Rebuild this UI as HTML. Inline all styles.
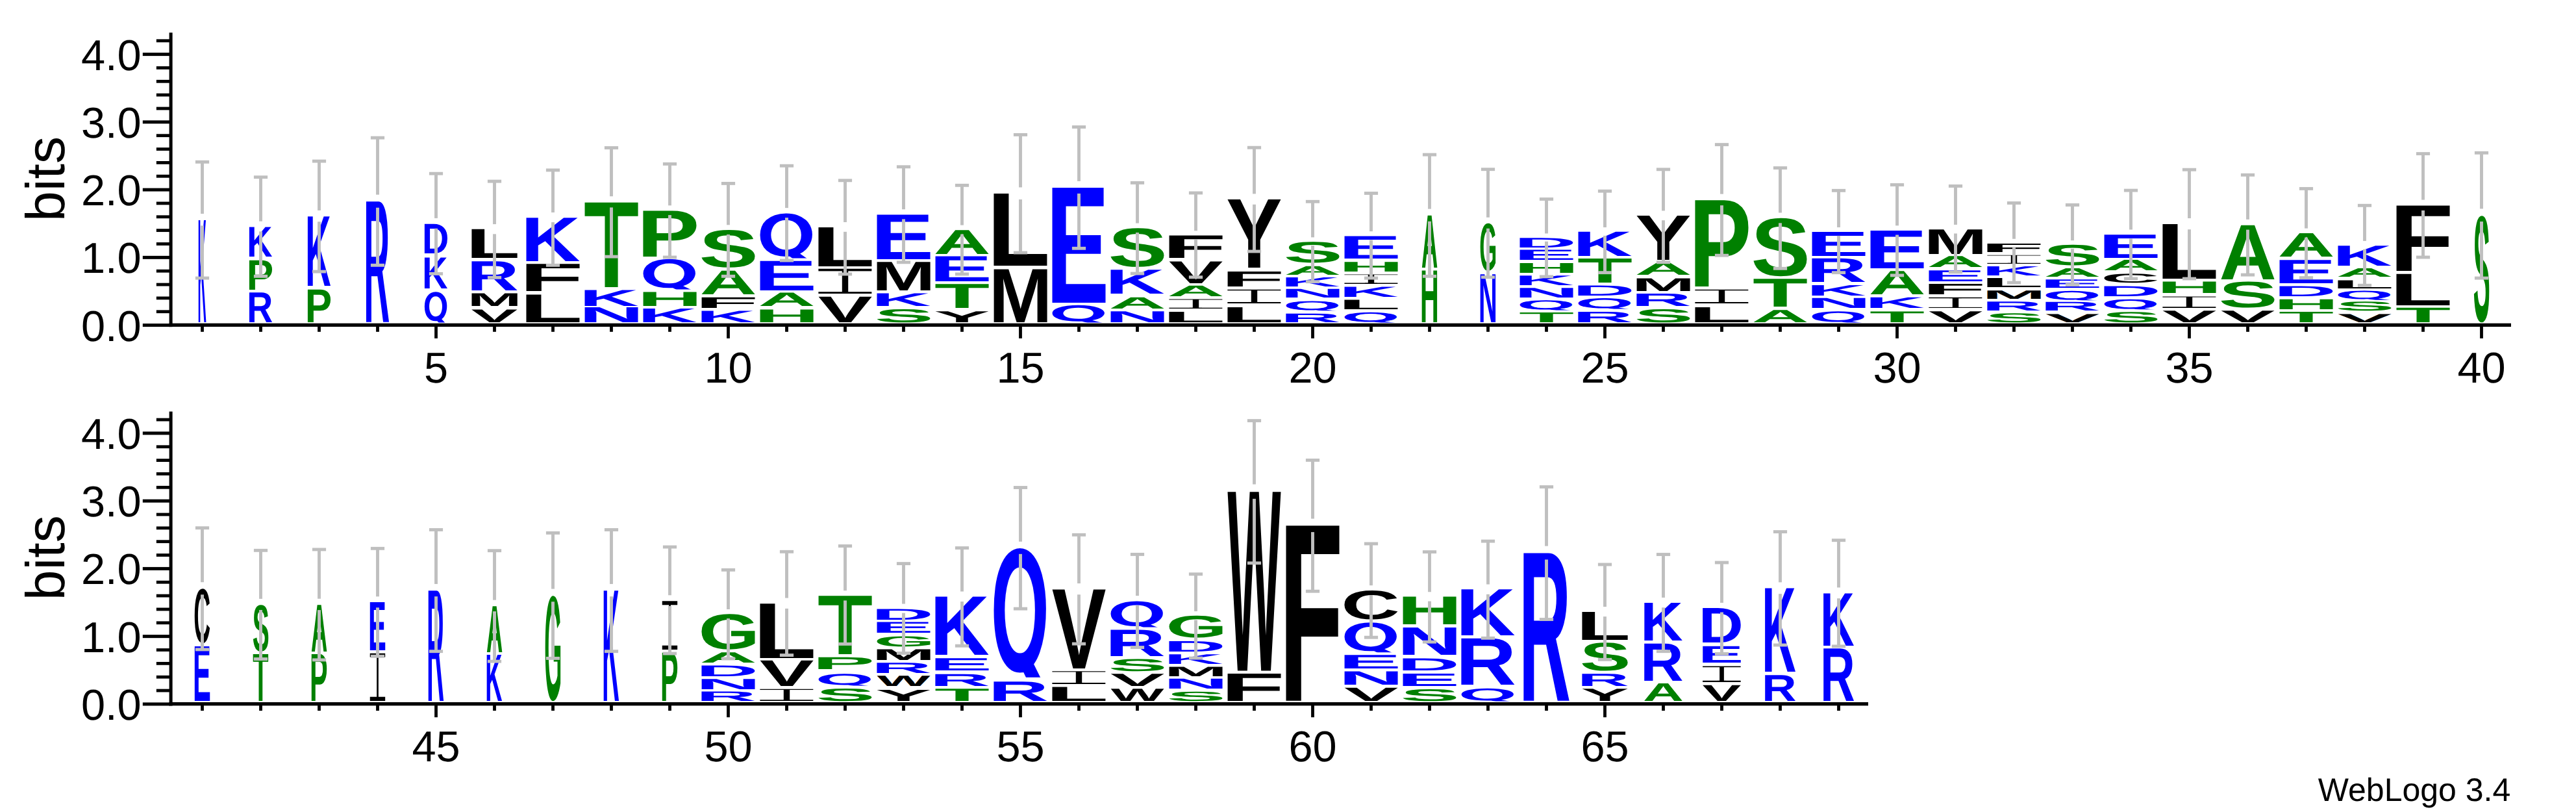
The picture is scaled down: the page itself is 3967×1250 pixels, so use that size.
<!DOCTYPE html>
<html><head><meta charset="utf-8"><title>WebLogo 3.4</title>
<style>
html,body{margin:0;padding:0;background:#fff}
svg{display:block}
text{font-family:"Liberation Sans",sans-serif;font-weight:bold;font-size:100px;text-rendering:geometricPrecision}
text.i{font-family:"Liberation Mono",monospace;font-weight:normal;fill:#000}
text.q{font-family:"NanumGothic","Liberation Sans",sans-serif;font-weight:800}
text.n{font-weight:normal;font-size:66.7px;fill:#000}
text.b{font-weight:normal;font-size:84.3px;fill:#000}
text.fp{font-weight:normal;font-size:50px;fill:#000}
</style></head><body>
<svg width="3967" height="1250" viewBox="0 0 3967 1250">
<rect width="3967" height="1250" fill="#fff"/>
<rect x="260.6" y="50.24" width="5" height="452.96" fill="#000000"/>
<rect x="260.6" y="497.7" width="3606.4" height="5.3" fill="#000000"/>
<rect x="219.8" y="498.1" width="42" height="5" fill="#000000"/>
<text class="n" text-anchor="end" x="217.6" y="524.5">0.0</text>
<rect x="240.8" y="477.35" width="21" height="4.8" fill="#000000"/>
<rect x="240.8" y="456.5" width="21" height="4.8" fill="#000000"/>
<rect x="240.8" y="435.65" width="21" height="4.8" fill="#000000"/>
<rect x="240.8" y="414.8" width="21" height="4.8" fill="#000000"/>
<rect x="219.8" y="393.85" width="42" height="5" fill="#000000"/>
<text class="n" text-anchor="end" x="217.6" y="420.25">1.0</text>
<rect x="240.8" y="373.1" width="21" height="4.8" fill="#000000"/>
<rect x="240.8" y="352.25" width="21" height="4.8" fill="#000000"/>
<rect x="240.8" y="331.4" width="21" height="4.8" fill="#000000"/>
<rect x="240.8" y="310.55" width="21" height="4.8" fill="#000000"/>
<rect x="219.8" y="289.6" width="42" height="5" fill="#000000"/>
<text class="n" text-anchor="end" x="217.6" y="316">2.0</text>
<rect x="240.8" y="268.85" width="21" height="4.8" fill="#000000"/>
<rect x="240.8" y="248" width="21" height="4.8" fill="#000000"/>
<rect x="240.8" y="227.15" width="21" height="4.8" fill="#000000"/>
<rect x="240.8" y="206.3" width="21" height="4.8" fill="#000000"/>
<rect x="219.8" y="185.35" width="42" height="5" fill="#000000"/>
<text class="n" text-anchor="end" x="217.6" y="211.75">3.0</text>
<rect x="240.8" y="164.6" width="21" height="4.8" fill="#000000"/>
<rect x="240.8" y="143.75" width="21" height="4.8" fill="#000000"/>
<rect x="240.8" y="122.9" width="21" height="4.8" fill="#000000"/>
<rect x="240.8" y="102.05" width="21" height="4.8" fill="#000000"/>
<rect x="219.8" y="81.1" width="42" height="5" fill="#000000"/>
<text class="n" text-anchor="end" x="217.6" y="107.5">4.0</text>
<rect x="240.8" y="60.35" width="21" height="4.8" fill="#000000"/>
<rect x="309.1" y="500.6" width="4.8" height="10.2" fill="#000000"/>
<rect x="399.1" y="500.6" width="4.8" height="10.2" fill="#000000"/>
<rect x="489.1" y="500.6" width="4.8" height="10.2" fill="#000000"/>
<rect x="579.1" y="500.6" width="4.8" height="10.2" fill="#000000"/>
<rect x="669.1" y="500.6" width="4.8" height="20.3" fill="#000000"/>
<text class="n" text-anchor="middle" x="671.5" y="588.8">5</text>
<rect x="759.1" y="500.6" width="4.8" height="10.2" fill="#000000"/>
<rect x="849.1" y="500.6" width="4.8" height="10.2" fill="#000000"/>
<rect x="939.1" y="500.6" width="4.8" height="10.2" fill="#000000"/>
<rect x="1029.1" y="500.6" width="4.8" height="10.2" fill="#000000"/>
<rect x="1119.1" y="500.6" width="4.8" height="20.3" fill="#000000"/>
<text class="n" text-anchor="middle" x="1121.5" y="588.8">10</text>
<rect x="1209.1" y="500.6" width="4.8" height="10.2" fill="#000000"/>
<rect x="1299.1" y="500.6" width="4.8" height="10.2" fill="#000000"/>
<rect x="1389.1" y="500.6" width="4.8" height="10.2" fill="#000000"/>
<rect x="1479.1" y="500.6" width="4.8" height="10.2" fill="#000000"/>
<rect x="1569.1" y="500.6" width="4.8" height="20.3" fill="#000000"/>
<text class="n" text-anchor="middle" x="1571.5" y="588.8">15</text>
<rect x="1659.1" y="500.6" width="4.8" height="10.2" fill="#000000"/>
<rect x="1749.1" y="500.6" width="4.8" height="10.2" fill="#000000"/>
<rect x="1839.1" y="500.6" width="4.8" height="10.2" fill="#000000"/>
<rect x="1929.1" y="500.6" width="4.8" height="10.2" fill="#000000"/>
<rect x="2019.1" y="500.6" width="4.8" height="20.3" fill="#000000"/>
<text class="n" text-anchor="middle" x="2021.5" y="588.8">20</text>
<rect x="2109.1" y="500.6" width="4.8" height="10.2" fill="#000000"/>
<rect x="2199.1" y="500.6" width="4.8" height="10.2" fill="#000000"/>
<rect x="2289.1" y="500.6" width="4.8" height="10.2" fill="#000000"/>
<rect x="2379.1" y="500.6" width="4.8" height="10.2" fill="#000000"/>
<rect x="2469.1" y="500.6" width="4.8" height="20.3" fill="#000000"/>
<text class="n" text-anchor="middle" x="2471.5" y="588.8">25</text>
<rect x="2559.1" y="500.6" width="4.8" height="10.2" fill="#000000"/>
<rect x="2649.1" y="500.6" width="4.8" height="10.2" fill="#000000"/>
<rect x="2739.1" y="500.6" width="4.8" height="10.2" fill="#000000"/>
<rect x="2829.1" y="500.6" width="4.8" height="10.2" fill="#000000"/>
<rect x="2919.1" y="500.6" width="4.8" height="20.3" fill="#000000"/>
<text class="n" text-anchor="middle" x="2921.5" y="588.8">30</text>
<rect x="3009.1" y="500.6" width="4.8" height="10.2" fill="#000000"/>
<rect x="3099.1" y="500.6" width="4.8" height="10.2" fill="#000000"/>
<rect x="3189.1" y="500.6" width="4.8" height="10.2" fill="#000000"/>
<rect x="3279.1" y="500.6" width="4.8" height="10.2" fill="#000000"/>
<rect x="3369.1" y="500.6" width="4.8" height="20.3" fill="#000000"/>
<text class="n" text-anchor="middle" x="3371.5" y="588.8">35</text>
<rect x="3459.1" y="500.6" width="4.8" height="10.2" fill="#000000"/>
<rect x="3549.1" y="500.6" width="4.8" height="10.2" fill="#000000"/>
<rect x="3639.1" y="500.6" width="4.8" height="10.2" fill="#000000"/>
<rect x="3729.1" y="500.6" width="4.8" height="10.2" fill="#000000"/>
<rect x="3819.1" y="500.6" width="4.8" height="20.3" fill="#000000"/>
<text class="n" text-anchor="middle" x="3821.5" y="588.8">40</text>
<text class="b" text-anchor="middle" transform="translate(99.2 275.42) rotate(-90)">bits</text>
<text fill="#0000ff" transform="matrix(0.1813 0 0 2.2835 304.43 495.8)">K</text>
<rect x="300.9" y="246.85" width="21.2" height="4.9" fill="#bfbfbf"/>
<rect x="309.05" y="249.3" width="4.9" height="79.76" fill="#bfbfbf"/>
<rect x="309.05" y="347.34" width="4.9" height="80.76" fill="#bfbfbf"/>
<rect x="300.9" y="425.65" width="21.2" height="4.9" fill="#bfbfbf"/>
<text fill="#0000ff" transform="matrix(0.5440 0 0 0.6628 380.29 394.6)">K</text>
<text fill="#008000" transform="matrix(0.6210 0 0 0.6584 379.77 445.5)">P</text>
<text fill="#0000ff" transform="matrix(0.5536 0 0 0.6672 380.23 495.8)">R</text>
<rect x="390.9" y="270.25" width="21.2" height="4.9" fill="#bfbfbf"/>
<rect x="399.05" y="272.7" width="4.9" height="67.97" fill="#bfbfbf"/>
<rect x="399.05" y="356.33" width="4.9" height="68.97" fill="#bfbfbf"/>
<rect x="390.9" y="422.85" width="21.2" height="4.9" fill="#bfbfbf"/>
<text fill="#0000ff" transform="matrix(0.5440 0 0 1.5524 470.29 439.9)">K</text>
<text fill="#008000" transform="matrix(0.6210 0 0 0.7311 469.77 495.8)">P</text>
<rect x="480.9" y="245.65" width="21.2" height="4.9" fill="#bfbfbf"/>
<rect x="489.05" y="248.1" width="4.9" height="75.8" fill="#bfbfbf"/>
<rect x="489.05" y="341.3" width="4.9" height="76.8" fill="#bfbfbf"/>
<rect x="480.9" y="415.65" width="21.2" height="4.9" fill="#bfbfbf"/>
<text fill="#0000ff" transform="matrix(0.5536 0 0 2.6977 560.23 495.8)">R</text>
<rect x="570.9" y="209.65" width="21.2" height="4.9" fill="#bfbfbf"/>
<rect x="579.05" y="212.1" width="4.9" height="87.59" fill="#bfbfbf"/>
<rect x="579.05" y="319.71" width="4.9" height="88.59" fill="#bfbfbf"/>
<rect x="570.9" y="405.85" width="21.2" height="4.9" fill="#bfbfbf"/>
<text fill="#0000ff" transform="matrix(0.5730 0 0 0.6584 650.1 389.6)">D</text>
<text fill="#0000ff" transform="matrix(0.5440 0 0 0.6904 650.29 443.5)">K</text>
<svg x="651.93" y="447.1" width="39.14" height="49.3" overflow="hidden"><g transform="translate(-651.93 -447.1)"><text class="q" fill="#0000ff" transform="matrix(0.5049 0 0 0.5586 651.35 492.9)">Q</text></g></svg>
<rect x="660.9" y="264.75" width="21.2" height="4.9" fill="#bfbfbf"/>
<rect x="669.05" y="267.2" width="4.9" height="68.69" fill="#bfbfbf"/>
<rect x="669.05" y="351.71" width="4.9" height="69.69" fill="#bfbfbf"/>
<rect x="660.9" y="418.95" width="21.2" height="4.9" fill="#bfbfbf"/>
<text fill="#000000" transform="matrix(1.3696 0 0 0.6425 717.2 397.4)">L</text>
<text fill="#0000ff" transform="matrix(1.1073 0 0 0.6512 718.95 446.9)">R</text>
<text fill="#000000" transform="matrix(1.0052 0 0 0.2849 719.63 470.9)">M</text>
<text fill="#000000" transform="matrix(1.0758 0 0 0.2849 725.62 495.8)">V</text>
<rect x="750.9" y="276.65" width="21.2" height="4.9" fill="#bfbfbf"/>
<rect x="759.05" y="279.1" width="4.9" height="65.99" fill="#bfbfbf"/>
<rect x="759.05" y="360.31" width="4.9" height="66.99" fill="#bfbfbf"/>
<rect x="750.9" y="424.85" width="21.2" height="4.9" fill="#bfbfbf"/>
<text fill="#0000ff" transform="matrix(1.2694 0 0 0.9709 802.01 401.9)">K</text>
<text fill="#000000" transform="matrix(1.6163 0 0 0.6061 799.69 448.3)">F</text>
<text fill="#000000" transform="matrix(1.5979 0 0 0.6177 799.81 495.8)">L</text>
<rect x="840.9" y="259.45" width="21.2" height="4.9" fill="#bfbfbf"/>
<rect x="849.05" y="261.9" width="4.9" height="65.18" fill="#bfbfbf"/>
<rect x="849.05" y="342.12" width="4.9" height="66.18" fill="#bfbfbf"/>
<rect x="840.9" y="405.85" width="21.2" height="4.9" fill="#bfbfbf"/>
<text fill="#008000" transform="matrix(1.3925 0 0 1.8925 898.94 441.5)">T</text>
<text fill="#0000ff" transform="matrix(1.2694 0 0 0.3576 892.01 470.9)">K</text>
<text fill="#0000ff" transform="matrix(1.3948 0 0 0.3343 891.17 495.8)">N</text>
<rect x="930.9" y="225.05" width="21.2" height="4.9" fill="#bfbfbf"/>
<rect x="939.05" y="227.5" width="4.9" height="74.72" fill="#bfbfbf"/>
<rect x="939.05" y="319.38" width="4.9" height="75.72" fill="#bfbfbf"/>
<rect x="930.9" y="392.65" width="21.2" height="4.9" fill="#bfbfbf"/>
<text fill="#008000" transform="matrix(1.4490 0 0 1.0233 980.81 394.6)">P</text>
<svg x="988.5" y="396.8" width="86" height="48.7" overflow="hidden"><g transform="translate(-988.5 -396.8)"><text class="q" fill="#0000ff" transform="matrix(1.1782 0 0 0.5514 984.49 442.03)">Q</text></g></svg>
<text fill="#008000" transform="matrix(1.3948 0 0 0.3125 981.17 471.4)">H</text>
<text fill="#0000ff" transform="matrix(1.2694 0 0 0.3052 982.01 495.8)">K</text>
<rect x="1020.9" y="249.95" width="21.2" height="4.9" fill="#bfbfbf"/>
<rect x="1029.05" y="252.4" width="4.9" height="63.92" fill="#bfbfbf"/>
<rect x="1029.05" y="331.08" width="4.9" height="64.92" fill="#bfbfbf"/>
<rect x="1020.9" y="393.55" width="21.2" height="4.9" fill="#bfbfbf"/>
<text fill="#008000" transform="matrix(1.3687 0 0 0.8164 1076.56 411.1)">S</text>
<text fill="#008000" transform="matrix(1.2222 0 0 0.5276 1077.46 453.3)">A</text>
<text fill="#000000" transform="matrix(1.6163 0 0 0.2355 1069.69 474.2)">F</text>
<text fill="#0000ff" transform="matrix(1.2694 0 0 0.2529 1072.01 495.8)">K</text>
<rect x="1110.9" y="279.95" width="21.2" height="4.9" fill="#bfbfbf"/>
<rect x="1119.05" y="282.4" width="4.9" height="63.88" fill="#bfbfbf"/>
<rect x="1119.05" y="360.92" width="4.9" height="64.38" fill="#bfbfbf"/>
<rect x="1110.9" y="422.85" width="21.2" height="4.9" fill="#bfbfbf"/>
<svg x="1168.5" y="326.1" width="86" height="71.3" overflow="hidden"><g transform="translate(-1168.5 -326.1)"><text class="q" fill="#0000ff" transform="matrix(1.1782 0 0 0.8218 1164.49 392.53)">Q</text></g></svg>
<text fill="#0000ff" transform="matrix(1.4616 0 0 0.6584 1160.72 446.9)">E</text>
<text fill="#008000" transform="matrix(1.2222 0 0 0.2965 1167.46 471.4)">A</text>
<text fill="#008000" transform="matrix(1.3948 0 0 0.2849 1161.17 495.8)">H</text>
<rect x="1200.9" y="252.75" width="21.2" height="4.9" fill="#bfbfbf"/>
<rect x="1209.05" y="255.2" width="4.9" height="64.91" fill="#bfbfbf"/>
<rect x="1209.05" y="335.09" width="4.9" height="65.91" fill="#bfbfbf"/>
<rect x="1200.9" y="398.55" width="21.2" height="4.9" fill="#bfbfbf"/>
<text fill="#000000" transform="matrix(1.5979 0 0 0.8736 1249.81 410)">L</text>
<text class="i" transform="matrix(2.0405 0 0 0.5799 1240.37 452.4)">I</text><rect x="1259.5" y="417.37" width="37.29" height="31.86" fill="#fff"/><rect x="1306.21" y="417.37" width="37.28" height="31.86" fill="#fff"/>
<text fill="#000000" transform="matrix(1.2551 0 0 0.5698 1259.64 495.8)">V</text>
<rect x="1290.9" y="275.35" width="21.2" height="4.9" fill="#bfbfbf"/>
<rect x="1299.05" y="277.8" width="4.9" height="64.19" fill="#bfbfbf"/>
<rect x="1299.05" y="356.81" width="4.9" height="65.19" fill="#bfbfbf"/>
<rect x="1290.9" y="419.55" width="21.2" height="4.9" fill="#bfbfbf"/>
<text fill="#0000ff" transform="matrix(1.4616 0 0 0.9957 1340.72 398.8)">E</text>
<text fill="#000000" transform="matrix(1.1727 0 0 0.6381 1342.66 446.9)">M</text>
<text fill="#0000ff" transform="matrix(1.2694 0 0 0.2834 1342.01 471.4)">K</text>
<text fill="#008000" transform="matrix(1.3687 0 0 0.2853 1346.56 495.52)">S</text>
<rect x="1380.9" y="254.35" width="21.2" height="4.9" fill="#bfbfbf"/>
<rect x="1389.05" y="256.8" width="4.9" height="65.45" fill="#bfbfbf"/>
<rect x="1389.05" y="337.35" width="4.9" height="66.45" fill="#bfbfbf"/>
<rect x="1380.9" y="401.35" width="21.2" height="4.9" fill="#bfbfbf"/>
<text fill="#008000" transform="matrix(1.2222 0 0 0.5363 1437.46 391)">A</text>
<text fill="#0000ff" transform="matrix(1.4616 0 0 0.5611 1430.72 433.2)">E</text>
<text fill="#008000" transform="matrix(1.3925 0 0 0.5349 1438.94 474.2)">T</text>
<text fill="#000000" transform="matrix(1.2938 0 0 0.2442 1438.29 495.8)">Y</text>
<rect x="1470.9" y="282.85" width="21.2" height="4.9" fill="#bfbfbf"/>
<rect x="1479.05" y="285.3" width="4.9" height="61.31" fill="#bfbfbf"/>
<rect x="1479.05" y="360.59" width="4.9" height="61.41" fill="#bfbfbf"/>
<rect x="1470.9" y="419.55" width="21.2" height="4.9" fill="#bfbfbf"/>
<text fill="#000000" transform="matrix(1.5979 0 0 1.6119 1519.81 409.1)">L</text>
<text fill="#000000" transform="matrix(1.1727 0 0 1.1861 1522.66 495.8)">M</text>
<rect x="1560.9" y="204.95" width="21.2" height="4.9" fill="#bfbfbf"/>
<rect x="1569.05" y="207.4" width="4.9" height="81.02" fill="#bfbfbf"/>
<rect x="1569.05" y="306.98" width="4.9" height="82.02" fill="#bfbfbf"/>
<rect x="1560.9" y="386.55" width="21.2" height="4.9" fill="#bfbfbf"/>
<text fill="#0000ff" transform="matrix(1.4616 0 0 2.5727 1610.72 465.9)">E</text>
<svg x="1618.5" y="468" width="86" height="28.4" overflow="hidden"><g transform="translate(-1618.5 -468)"><text class="q" fill="#0000ff" transform="matrix(1.1782 0 0 0.3086 1614.49 494.2)">Q</text></g></svg>
<rect x="1650.9" y="193.05" width="21.2" height="4.9" fill="#bfbfbf"/>
<rect x="1659.05" y="195.5" width="4.9" height="83.36" fill="#bfbfbf"/>
<rect x="1659.05" y="297.94" width="4.9" height="84.36" fill="#bfbfbf"/>
<rect x="1650.9" y="379.85" width="21.2" height="4.9" fill="#bfbfbf"/>
<text fill="#008000" transform="matrix(1.3687 0 0 0.8404 1706.56 409.98)">S</text>
<text fill="#0000ff" transform="matrix(1.2694 0 0 0.5349 1702.01 452.4)">K</text>
<text fill="#008000" transform="matrix(1.2222 0 0 0.2515 1707.46 474.8)">A</text>
<text fill="#0000ff" transform="matrix(1.3948 0 0 0.2442 1701.17 495.8)">N</text>
<rect x="1740.9" y="278.95" width="21.2" height="4.9" fill="#bfbfbf"/>
<rect x="1749.05" y="281.4" width="4.9" height="62.22" fill="#bfbfbf"/>
<rect x="1749.05" y="357.98" width="4.9" height="63.12" fill="#bfbfbf"/>
<rect x="1740.9" y="418.65" width="21.2" height="4.9" fill="#bfbfbf"/>
<text fill="#000000" transform="matrix(1.6163 0 0 0.5000 1789.69 396.8)">F</text>
<text fill="#000000" transform="matrix(1.2551 0 0 0.4884 1799.64 435.7)">V</text>
<text fill="#008000" transform="matrix(1.2222 0 0 0.2355 1797.46 456.1)">A</text>
<text class="i" transform="matrix(2.0405 0 0 0.2201 1780.37 474.8)">I</text><rect x="1799.5" y="461.5" width="37.29" height="12.09" fill="#fff"/><rect x="1846.21" y="461.5" width="37.28" height="12.09" fill="#fff"/>
<text fill="#000000" transform="matrix(1.5979 0 0 0.2326 1789.81 495.8)">L</text>
<rect x="1830.9" y="294.55" width="21.2" height="4.9" fill="#bfbfbf"/>
<rect x="1839.05" y="297" width="4.9" height="58.27" fill="#bfbfbf"/>
<rect x="1839.05" y="368.53" width="4.9" height="58.17" fill="#bfbfbf"/>
<rect x="1830.9" y="424.25" width="21.2" height="4.9" fill="#bfbfbf"/>
<text fill="#000000" transform="matrix(1.2938 0 0 1.5276 1888.29 412.2)">Y</text>
<text fill="#000000" transform="matrix(1.6163 0 0 0.3329 1879.69 440.7)">F</text>
<text class="i" transform="matrix(2.0405 0 0 0.3219 1870.37 466.7)">I</text><rect x="1889.5" y="447.26" width="37.29" height="17.68" fill="#fff"/><rect x="1936.21" y="447.26" width="37.28" height="17.68" fill="#fff"/>
<text fill="#000000" transform="matrix(1.5979 0 0 0.3343 1879.81 495.8)">L</text>
<rect x="1920.9" y="224.75" width="21.2" height="4.9" fill="#bfbfbf"/>
<rect x="1929.05" y="227.2" width="4.9" height="71.21" fill="#bfbfbf"/>
<rect x="1929.05" y="314.79" width="4.9" height="72.21" fill="#bfbfbf"/>
<rect x="1920.9" y="384.55" width="21.2" height="4.9" fill="#bfbfbf"/>
<text fill="#008000" transform="matrix(1.3687 0 0 0.4548 1976.56 403.96)">S</text>
<text fill="#008000" transform="matrix(1.2222 0 0 0.1948 1977.46 422.5)">A</text>
<text fill="#0000ff" transform="matrix(1.2694 0 0 0.2035 1972.01 440.7)">K</text>
<text fill="#0000ff" transform="matrix(1.3948 0 0 0.1948 1971.17 458.3)">N</text>
<svg x="1978.5" y="461.1" width="86" height="17.1" overflow="hidden"><g transform="translate(-1978.5 -461.1)"><text class="q" fill="#0000ff" transform="matrix(1.1782 0 0 0.1734 1974.49 476.7)">Q</text></g></svg>
<text fill="#0000ff" transform="matrix(1.2918 0 0 0.1919 1971.86 495.8)">R</text>
<rect x="2010.9" y="307.85" width="21.2" height="4.9" fill="#bfbfbf"/>
<rect x="2019.05" y="310.3" width="4.9" height="55.05" fill="#bfbfbf"/>
<rect x="2019.05" y="378.05" width="4.9" height="55.65" fill="#bfbfbf"/>
<rect x="2010.9" y="431.25" width="21.2" height="4.9" fill="#bfbfbf"/>
<text fill="#0000ff" transform="matrix(1.4616 0 0 0.5029 2060.72 397.9)">E</text>
<text fill="#008000" transform="matrix(1.3948 0 0 0.2151 2061.17 417.8)">H</text>
<text class="i" transform="matrix(2.0405 0 0 0.2201 2050.37 436.5)">I</text><rect x="2069.5" y="423.2" width="37.28" height="12.09" fill="#fff"/><rect x="2116.22" y="423.2" width="37.28" height="12.09" fill="#fff"/>
<text fill="#0000ff" transform="matrix(1.2694 0 0 0.2238 2062.01 456.9)">K</text>
<text fill="#000000" transform="matrix(1.5979 0 0 0.2108 2059.81 475.6)">L</text>
<svg x="2068.5" y="478.7" width="86" height="17.7" overflow="hidden"><g transform="translate(-2068.5 -478.7)"><text class="q" fill="#0000ff" transform="matrix(1.1782 0 0 0.1806 2064.49 494.86)">Q</text></g></svg>
<rect x="2100.9" y="295.05" width="21.2" height="4.9" fill="#bfbfbf"/>
<rect x="2109.05" y="297.5" width="4.9" height="58.62" fill="#bfbfbf"/>
<rect x="2109.05" y="369.48" width="4.9" height="58.62" fill="#bfbfbf"/>
<rect x="2100.9" y="425.65" width="21.2" height="4.9" fill="#bfbfbf"/>
<text fill="#008000" transform="matrix(0.3492 0 0 1.1657 2188.92 411.9)">A</text>
<text fill="#008000" transform="matrix(0.3985 0 0 1.1541 2187.12 495.8)">H</text>
<rect x="2190.9" y="235.65" width="21.2" height="4.9" fill="#bfbfbf"/>
<rect x="2199.05" y="238.1" width="4.9" height="83.54" fill="#bfbfbf"/>
<rect x="2199.05" y="340.76" width="4.9" height="84.54" fill="#bfbfbf"/>
<rect x="2190.9" y="422.85" width="21.2" height="4.9" fill="#bfbfbf"/>
<text fill="#008000" transform="matrix(0.3472 0 0 1.0339 2278.36 415.89)">G</text>
<text fill="#0000ff" transform="matrix(0.3985 0 0 1.0727 2277.12 495.8)">N</text>
<rect x="2280.9" y="258.25" width="21.2" height="4.9" fill="#bfbfbf"/>
<rect x="2289.05" y="260.7" width="4.9" height="74" fill="#bfbfbf"/>
<rect x="2289.05" y="351.7" width="4.9" height="75" fill="#bfbfbf"/>
<rect x="2280.9" y="424.25" width="21.2" height="4.9" fill="#bfbfbf"/>
<text fill="#0000ff" transform="matrix(1.3371 0 0 0.2137 2331.56 380.8)">D</text>
<text fill="#0000ff" transform="matrix(1.4616 0 0 0.2238 2330.72 399.9)">E</text>
<text fill="#008000" transform="matrix(1.3948 0 0 0.2195 2331.17 420)">H</text>
<text fill="#0000ff" transform="matrix(1.2694 0 0 0.2151 2332.01 439)">K</text>
<text fill="#0000ff" transform="matrix(1.3948 0 0 0.2137 2331.17 457.8)">N</text>
<svg x="2338.5" y="460.2" width="86" height="17.4" overflow="hidden"><g transform="translate(-2338.5 -460.2)"><text class="q" fill="#0000ff" transform="matrix(1.1782 0 0 0.1770 2334.49 476.08)">Q</text></g></svg>
<text fill="#008000" transform="matrix(1.3925 0 0 0.2195 2338.94 495.8)">T</text>
<rect x="2370.9" y="304.05" width="21.2" height="4.9" fill="#bfbfbf"/>
<rect x="2379.05" y="306.5" width="4.9" height="52.92" fill="#bfbfbf"/>
<rect x="2379.05" y="371.78" width="4.9" height="54.12" fill="#bfbfbf"/>
<rect x="2370.9" y="423.45" width="21.2" height="4.9" fill="#bfbfbf"/>
<text fill="#0000ff" transform="matrix(1.2694 0 0 0.5407 2422.01 394.1)">K</text>
<text fill="#008000" transform="matrix(1.3925 0 0 0.5378 2428.94 434.8)">T</text>
<text fill="#0000ff" transform="matrix(1.3371 0 0 0.2238 2421.56 454.7)">D</text>
<svg x="2428.5" y="456.9" width="86" height="18.5" overflow="hidden"><g transform="translate(-2428.5 -456.9)"><text class="q" fill="#0000ff" transform="matrix(1.1782 0 0 0.1902 2424.49 473.81)">Q</text></g></svg>
<text fill="#0000ff" transform="matrix(1.2918 0 0 0.2326 2421.86 495.8)">R</text>
<rect x="2460.9" y="291.75" width="21.2" height="4.9" fill="#bfbfbf"/>
<rect x="2469.05" y="294.2" width="4.9" height="55.72" fill="#bfbfbf"/>
<rect x="2469.05" y="362.88" width="4.9" height="56.82" fill="#bfbfbf"/>
<rect x="2460.9" y="417.25" width="21.2" height="4.9" fill="#bfbfbf"/>
<text fill="#000000" transform="matrix(1.2938 0 0 0.9869 2518.29 400.2)">Y</text>
<text fill="#008000" transform="matrix(1.2222 0 0 0.2689 2517.46 423.4)">A</text>
<text fill="#000000" transform="matrix(1.1727 0 0 0.2849 2512.66 447.7)">M</text>
<text fill="#0000ff" transform="matrix(1.2918 0 0 0.2762 2511.86 471.4)">R</text>
<text fill="#008000" transform="matrix(1.3687 0 0 0.2853 2516.56 495.52)">S</text>
<rect x="2550.9" y="258.35" width="21.2" height="4.9" fill="#bfbfbf"/>
<rect x="2559.05" y="260.8" width="4.9" height="63.65" fill="#bfbfbf"/>
<rect x="2559.05" y="339.15" width="4.9" height="64.65" fill="#bfbfbf"/>
<rect x="2550.9" y="401.35" width="21.2" height="4.9" fill="#bfbfbf"/>
<text fill="#008000" transform="matrix(1.4490 0 0 1.9303 2600.81 440.7)">P</text>
<text class="i" transform="matrix(2.0405 0 0 0.3219 2590.37 466.7)">I</text><rect x="2609.5" y="447.26" width="37.28" height="17.68" fill="#fff"/><rect x="2656.22" y="447.26" width="37.28" height="17.68" fill="#fff"/>
<text fill="#000000" transform="matrix(1.5979 0 0 0.3343 2599.81 495.8)">L</text>
<rect x="2640.9" y="220.15" width="21.2" height="4.9" fill="#bfbfbf"/>
<rect x="2649.05" y="222.6" width="4.9" height="76.07" fill="#bfbfbf"/>
<rect x="2649.05" y="316.13" width="4.9" height="77.07" fill="#bfbfbf"/>
<rect x="2640.9" y="390.75" width="21.2" height="4.9" fill="#bfbfbf"/>
<text fill="#008000" transform="matrix(1.3687 0 0 1.2627 2696.56 424.07)">S</text>
<text fill="#008000" transform="matrix(1.3925 0 0 0.6221 2698.94 472.3)">T</text>
<text fill="#008000" transform="matrix(1.2222 0 0 0.2733 2697.46 495.8)">A</text>
<rect x="2730.9" y="256.05" width="21.2" height="4.9" fill="#bfbfbf"/>
<rect x="2739.05" y="258.5" width="4.9" height="68.96" fill="#bfbfbf"/>
<rect x="2739.05" y="343.34" width="4.9" height="69.96" fill="#bfbfbf"/>
<rect x="2730.9" y="410.85" width="21.2" height="4.9" fill="#bfbfbf"/>
<text fill="#0000ff" transform="matrix(1.4616 0 0 0.5393 2780.72 394)">E</text>
<text fill="#0000ff" transform="matrix(1.2918 0 0 0.5276 2781.86 433.7)">R</text>
<text fill="#0000ff" transform="matrix(1.2694 0 0 0.2326 2782.01 454.7)">K</text>
<text fill="#0000ff" transform="matrix(1.3948 0 0 0.2224 2781.17 474.2)">N</text>
<svg x="2788.5" y="477" width="86" height="19.4" overflow="hidden"><g transform="translate(-2788.5 -477)"><text class="q" fill="#0000ff" transform="matrix(1.1782 0 0 0.2010 2784.49 494.76)">Q</text></g></svg>
<rect x="2820.9" y="290.85" width="21.2" height="4.9" fill="#bfbfbf"/>
<rect x="2829.05" y="293.3" width="4.9" height="56.62" fill="#bfbfbf"/>
<rect x="2829.05" y="362.88" width="4.9" height="56.82" fill="#bfbfbf"/>
<rect x="2820.9" y="417.25" width="21.2" height="4.9" fill="#bfbfbf"/>
<text fill="#0000ff" transform="matrix(1.4616 0 0 0.8416 2870.72 412.8)">E</text>
<text fill="#008000" transform="matrix(1.2222 0 0 0.5204 2877.46 453.3)">A</text>
<text fill="#0000ff" transform="matrix(1.2694 0 0 0.2355 2872.01 474.2)">K</text>
<text fill="#008000" transform="matrix(1.3925 0 0 0.2398 2878.94 495.8)">T</text>
<rect x="2910.9" y="282.05" width="21.2" height="4.9" fill="#bfbfbf"/>
<rect x="2919.05" y="284.5" width="4.9" height="62.8" fill="#bfbfbf"/>
<rect x="2919.05" y="361.5" width="4.9" height="62.4" fill="#bfbfbf"/>
<rect x="2910.9" y="421.45" width="21.2" height="4.9" fill="#bfbfbf"/>
<text fill="#000000" transform="matrix(1.1727 0 0 0.5494 2962.66 391)">M</text>
<text fill="#008000" transform="matrix(1.2222 0 0 0.2442 2967.46 411.4)">A</text>
<text fill="#0000ff" transform="matrix(1.4616 0 0 0.2442 2960.72 432.9)">E</text>
<text fill="#000000" transform="matrix(1.6163 0 0 0.2311 2959.69 453.3)">F</text>
<text class="i" transform="matrix(2.0405 0 0 0.2459 2950.37 474.2)">I</text><rect x="2969.5" y="459.34" width="37.28" height="13.51" fill="#fff"/><rect x="3016.22" y="459.34" width="37.28" height="13.51" fill="#fff"/>
<text fill="#000000" transform="matrix(1.2551 0 0 0.2442 2969.64 495.8)">V</text>
<rect x="3000.9" y="283.95" width="21.2" height="4.9" fill="#bfbfbf"/>
<rect x="3009.05" y="286.4" width="4.9" height="59.53" fill="#bfbfbf"/>
<rect x="3009.05" y="359.47" width="4.9" height="59.43" fill="#bfbfbf"/>
<rect x="3000.9" y="416.45" width="21.2" height="4.9" fill="#bfbfbf"/>
<text fill="#000000" transform="matrix(1.6163 0 0 0.1904 3049.69 387.6)">F</text>
<text class="i" transform="matrix(2.0405 0 0 0.2034 3040.37 405.8)">I</text><rect x="3059.5" y="393.51" width="37.28" height="11.18" fill="#fff"/><rect x="3106.22" y="393.51" width="37.28" height="11.18" fill="#fff"/>
<text fill="#0000ff" transform="matrix(1.2694 0 0 0.2020 3052.01 423.9)">K</text>
<text fill="#000000" transform="matrix(1.5979 0 0 0.2035 3049.81 442.1)">L</text>
<text fill="#000000" transform="matrix(1.1727 0 0 0.1860 3052.66 459.7)">M</text>
<text fill="#0000ff" transform="matrix(1.2918 0 0 0.1991 3051.86 477.6)">R</text>
<text fill="#008000" transform="matrix(1.3687 0 0 0.1977 3056.56 495.61)">S</text>
<rect x="3090.9" y="310.05" width="21.2" height="4.9" fill="#bfbfbf"/>
<rect x="3099.05" y="312.5" width="4.9" height="55.24" fill="#bfbfbf"/>
<rect x="3099.05" y="380.26" width="4.9" height="54.84" fill="#bfbfbf"/>
<rect x="3090.9" y="432.65" width="21.2" height="4.9" fill="#bfbfbf"/>
<text fill="#008000" transform="matrix(1.3687 0 0 0.4463 3146.56 408.16)">S</text>
<text fill="#008000" transform="matrix(1.2222 0 0 0.1904 3147.46 425.9)">A</text>
<text fill="#0000ff" transform="matrix(1.4616 0 0 0.1860 3140.72 442.9)">E</text>
<svg x="3148.5" y="445.7" width="86" height="16.6" overflow="hidden"><g transform="translate(-3148.5 -445.7)"><text class="q" fill="#0000ff" transform="matrix(1.1782 0 0 0.1675 3144.49 460.83)">Q</text></g></svg>
<text fill="#0000ff" transform="matrix(1.2918 0 0 0.1948 3141.86 478.4)">R</text>
<text fill="#000000" transform="matrix(1.2551 0 0 0.1831 3149.64 495.8)">V</text>
<rect x="3180.9" y="313.05" width="21.2" height="4.9" fill="#bfbfbf"/>
<rect x="3189.05" y="315.5" width="4.9" height="54.65" fill="#bfbfbf"/>
<rect x="3189.05" y="382.85" width="4.9" height="55.65" fill="#bfbfbf"/>
<rect x="3180.9" y="436.05" width="21.2" height="4.9" fill="#bfbfbf"/>
<text fill="#0000ff" transform="matrix(1.4616 0 0 0.5204 3230.72 396.8)">E</text>
<text fill="#008000" transform="matrix(1.2222 0 0 0.2311 3237.46 416.1)">A</text>
<text fill="#000000" transform="matrix(1.2542 0 0 0.1977 3235.36 434.91)">C</text>
<text fill="#0000ff" transform="matrix(1.3371 0 0 0.2267 3231.56 455.5)">D</text>
<svg x="3238.5" y="458.3" width="86" height="17.9" overflow="hidden"><g transform="translate(-3238.5 -458.3)"><text class="q" fill="#0000ff" transform="matrix(1.1782 0 0 0.1830 3234.49 474.65)">Q</text></g></svg>
<text fill="#008000" transform="matrix(1.3687 0 0 0.2260 3236.56 495.58)">S</text>
<rect x="3270.9" y="290.65" width="21.2" height="4.9" fill="#bfbfbf"/>
<rect x="3279.05" y="293.1" width="4.9" height="60.4" fill="#bfbfbf"/>
<rect x="3279.05" y="367.5" width="4.9" height="61.5" fill="#bfbfbf"/>
<rect x="3270.9" y="426.55" width="21.2" height="4.9" fill="#bfbfbf"/>
<text fill="#000000" transform="matrix(1.5979 0 0 1.2195 3319.81 429)">L</text>
<text fill="#008000" transform="matrix(1.3948 0 0 0.2558 3321.17 451.3)">H</text>
<text class="i" transform="matrix(2.0405 0 0 0.2672 3310.37 473.7)">I</text><rect x="3329.5" y="457.56" width="37.28" height="14.68" fill="#fff"/><rect x="3376.22" y="457.56" width="37.28" height="14.68" fill="#fff"/>
<text fill="#000000" transform="matrix(1.2551 0 0 0.2602 3329.64 495.8)">V</text>
<rect x="3360.9" y="258.75" width="21.2" height="4.9" fill="#bfbfbf"/>
<rect x="3369.05" y="261.2" width="4.9" height="74.81" fill="#bfbfbf"/>
<rect x="3369.05" y="353.19" width="4.9" height="75.81" fill="#bfbfbf"/>
<rect x="3360.9" y="426.55" width="21.2" height="4.9" fill="#bfbfbf"/>
<text fill="#008000" transform="matrix(1.2222 0 0 1.2108 3417.46 429.5)">A</text>
<text fill="#008000" transform="matrix(1.3687 0 0 0.5650 3416.56 473.15)">S</text>
<text fill="#000000" transform="matrix(1.2551 0 0 0.2602 3419.64 495.8)">V</text>
<rect x="3450.9" y="266.85" width="21.2" height="4.9" fill="#bfbfbf"/>
<rect x="3459.05" y="269.3" width="4.9" height="68.51" fill="#bfbfbf"/>
<rect x="3459.05" y="353.59" width="4.9" height="69.51" fill="#bfbfbf"/>
<rect x="3450.9" y="420.65" width="21.2" height="4.9" fill="#bfbfbf"/>
<text fill="#008000" transform="matrix(1.2222 0 0 0.5233 3507.46 395.1)">A</text>
<text fill="#0000ff" transform="matrix(1.4616 0 0 0.5204 3500.72 436)">E</text>
<text fill="#0000ff" transform="matrix(1.3371 0 0 0.2238 3501.56 455.5)">D</text>
<text fill="#008000" transform="matrix(1.3948 0 0 0.2224 3501.17 475.6)">H</text>
<text fill="#008000" transform="matrix(1.3925 0 0 0.2326 3508.94 495.8)">T</text>
<rect x="3540.9" y="287.95" width="21.2" height="4.9" fill="#bfbfbf"/>
<rect x="3549.05" y="290.4" width="4.9" height="61.15" fill="#bfbfbf"/>
<rect x="3549.05" y="365.65" width="4.9" height="61.95" fill="#bfbfbf"/>
<rect x="3540.9" y="425.15" width="21.2" height="4.9" fill="#bfbfbf"/>
<text fill="#0000ff" transform="matrix(1.2694 0 0 0.4477 3592.01 408.6)">K</text>
<text fill="#008000" transform="matrix(1.2222 0 0 0.1904 3597.46 425.9)">A</text>
<text fill="#000000" transform="matrix(1.5979 0 0 0.1831 3589.81 443.5)">L</text>
<svg x="3598.5" y="445.7" width="86" height="16" overflow="hidden"><g transform="translate(-3598.5 -445.7)"><text class="q" fill="#0000ff" transform="matrix(1.1782 0 0 0.1603 3594.49 460.27)">Q</text></g></svg>
<text fill="#008000" transform="matrix(1.3687 0 0 0.1963 3596.56 478.21)">S</text>
<text fill="#000000" transform="matrix(1.2551 0 0 0.1831 3599.64 495.8)">V</text>
<rect x="3630.9" y="313.85" width="21.2" height="4.9" fill="#bfbfbf"/>
<rect x="3639.05" y="316.3" width="4.9" height="54.65" fill="#bfbfbf"/>
<rect x="3639.05" y="383.65" width="4.9" height="55.65" fill="#bfbfbf"/>
<rect x="3630.9" y="436.85" width="21.2" height="4.9" fill="#bfbfbf"/>
<text fill="#000000" transform="matrix(1.6163 0 0 1.4622 3679.69 416.9)">F</text>
<text fill="#000000" transform="matrix(1.5979 0 0 0.7020 3679.81 470)">L</text>
<text fill="#008000" transform="matrix(1.3925 0 0 0.3256 3688.94 495.8)">T</text>
<rect x="3720.9" y="234.15" width="21.2" height="4.9" fill="#bfbfbf"/>
<rect x="3729.05" y="236.6" width="4.9" height="71.03" fill="#bfbfbf"/>
<rect x="3729.05" y="323.97" width="4.9" height="72.03" fill="#bfbfbf"/>
<rect x="3720.9" y="393.55" width="21.2" height="4.9" fill="#bfbfbf"/>
<text fill="#008000" transform="matrix(0.3910 0 0 2.3178 3808.66 493.54)">S</text>
<rect x="3810.9" y="232.85" width="21.2" height="4.9" fill="#bfbfbf"/>
<rect x="3819.05" y="235.3" width="4.9" height="86.06" fill="#bfbfbf"/>
<rect x="3819.05" y="341.04" width="4.9" height="87.06" fill="#bfbfbf"/>
<rect x="3810.9" y="425.65" width="21.2" height="4.9" fill="#bfbfbf"/>
<rect x="260.6" y="633.54" width="5" height="452.96" fill="#000000"/>
<rect x="260.6" y="1081" width="2616.4" height="5.3" fill="#000000"/>
<rect x="219.8" y="1081.4" width="42" height="5" fill="#000000"/>
<text class="n" text-anchor="end" x="217.6" y="1107.8">0.0</text>
<rect x="240.8" y="1060.65" width="21" height="4.8" fill="#000000"/>
<rect x="240.8" y="1039.8" width="21" height="4.8" fill="#000000"/>
<rect x="240.8" y="1018.95" width="21" height="4.8" fill="#000000"/>
<rect x="240.8" y="998.1" width="21" height="4.8" fill="#000000"/>
<rect x="219.8" y="977.15" width="42" height="5" fill="#000000"/>
<text class="n" text-anchor="end" x="217.6" y="1003.55">1.0</text>
<rect x="240.8" y="956.4" width="21" height="4.8" fill="#000000"/>
<rect x="240.8" y="935.55" width="21" height="4.8" fill="#000000"/>
<rect x="240.8" y="914.7" width="21" height="4.8" fill="#000000"/>
<rect x="240.8" y="893.85" width="21" height="4.8" fill="#000000"/>
<rect x="219.8" y="872.9" width="42" height="5" fill="#000000"/>
<text class="n" text-anchor="end" x="217.6" y="899.3">2.0</text>
<rect x="240.8" y="852.15" width="21" height="4.8" fill="#000000"/>
<rect x="240.8" y="831.3" width="21" height="4.8" fill="#000000"/>
<rect x="240.8" y="810.45" width="21" height="4.8" fill="#000000"/>
<rect x="240.8" y="789.6" width="21" height="4.8" fill="#000000"/>
<rect x="219.8" y="768.65" width="42" height="5" fill="#000000"/>
<text class="n" text-anchor="end" x="217.6" y="795.05">3.0</text>
<rect x="240.8" y="747.9" width="21" height="4.8" fill="#000000"/>
<rect x="240.8" y="727.05" width="21" height="4.8" fill="#000000"/>
<rect x="240.8" y="706.2" width="21" height="4.8" fill="#000000"/>
<rect x="240.8" y="685.35" width="21" height="4.8" fill="#000000"/>
<rect x="219.8" y="664.4" width="42" height="5" fill="#000000"/>
<text class="n" text-anchor="end" x="217.6" y="690.8">4.0</text>
<rect x="240.8" y="643.65" width="21" height="4.8" fill="#000000"/>
<rect x="309.1" y="1083.9" width="4.8" height="10.2" fill="#000000"/>
<rect x="399.1" y="1083.9" width="4.8" height="10.2" fill="#000000"/>
<rect x="489.1" y="1083.9" width="4.8" height="10.2" fill="#000000"/>
<rect x="579.1" y="1083.9" width="4.8" height="10.2" fill="#000000"/>
<rect x="669.1" y="1083.9" width="4.8" height="20.3" fill="#000000"/>
<text class="n" text-anchor="middle" x="671.5" y="1172.1">45</text>
<rect x="759.1" y="1083.9" width="4.8" height="10.2" fill="#000000"/>
<rect x="849.1" y="1083.9" width="4.8" height="10.2" fill="#000000"/>
<rect x="939.1" y="1083.9" width="4.8" height="10.2" fill="#000000"/>
<rect x="1029.1" y="1083.9" width="4.8" height="10.2" fill="#000000"/>
<rect x="1119.1" y="1083.9" width="4.8" height="20.3" fill="#000000"/>
<text class="n" text-anchor="middle" x="1121.5" y="1172.1">50</text>
<rect x="1209.1" y="1083.9" width="4.8" height="10.2" fill="#000000"/>
<rect x="1299.1" y="1083.9" width="4.8" height="10.2" fill="#000000"/>
<rect x="1389.1" y="1083.9" width="4.8" height="10.2" fill="#000000"/>
<rect x="1479.1" y="1083.9" width="4.8" height="10.2" fill="#000000"/>
<rect x="1569.1" y="1083.9" width="4.8" height="20.3" fill="#000000"/>
<text class="n" text-anchor="middle" x="1571.5" y="1172.1">55</text>
<rect x="1659.1" y="1083.9" width="4.8" height="10.2" fill="#000000"/>
<rect x="1749.1" y="1083.9" width="4.8" height="10.2" fill="#000000"/>
<rect x="1839.1" y="1083.9" width="4.8" height="10.2" fill="#000000"/>
<rect x="1929.1" y="1083.9" width="4.8" height="10.2" fill="#000000"/>
<rect x="2019.1" y="1083.9" width="4.8" height="20.3" fill="#000000"/>
<text class="n" text-anchor="middle" x="2021.5" y="1172.1">60</text>
<rect x="2109.1" y="1083.9" width="4.8" height="10.2" fill="#000000"/>
<rect x="2199.1" y="1083.9" width="4.8" height="10.2" fill="#000000"/>
<rect x="2289.1" y="1083.9" width="4.8" height="10.2" fill="#000000"/>
<rect x="2379.1" y="1083.9" width="4.8" height="10.2" fill="#000000"/>
<rect x="2469.1" y="1083.9" width="4.8" height="20.3" fill="#000000"/>
<text class="n" text-anchor="middle" x="2471.5" y="1172.1">65</text>
<rect x="2559.1" y="1083.9" width="4.8" height="10.2" fill="#000000"/>
<rect x="2649.1" y="1083.9" width="4.8" height="10.2" fill="#000000"/>
<rect x="2739.1" y="1083.9" width="4.8" height="10.2" fill="#000000"/>
<rect x="2829.1" y="1083.9" width="4.8" height="10.2" fill="#000000"/>
<text class="b" text-anchor="middle" transform="translate(99.2 858.72) rotate(-90)">bits</text>
<text fill="#000000" transform="matrix(0.3583 0 0 1.1850 298.32 989.04)">C</text>
<text fill="#0000ff" transform="matrix(0.4176 0 0 1.2195 296.99 1078.8)">E</text>
<rect x="300.9" y="810.25" width="21.2" height="4.9" fill="#bfbfbf"/>
<rect x="309.05" y="812.7" width="4.9" height="83.54" fill="#bfbfbf"/>
<rect x="309.05" y="915.36" width="4.9" height="84.54" fill="#bfbfbf"/>
<rect x="300.9" y="997.45" width="21.2" height="4.9" fill="#bfbfbf"/>
<text fill="#008000" transform="matrix(0.3910 0 0 1.0141 388.66 1001.71)">S</text>
<text fill="#008000" transform="matrix(0.3979 0 0 1.0451 389.34 1078.8)">T</text>
<rect x="390.9" y="844.85" width="21.2" height="4.9" fill="#bfbfbf"/>
<rect x="399.05" y="847.3" width="4.9" height="74.54" fill="#bfbfbf"/>
<rect x="399.05" y="938.96" width="4.9" height="75.54" fill="#bfbfbf"/>
<rect x="390.9" y="1012.05" width="21.2" height="4.9" fill="#bfbfbf"/>
<text fill="#008000" transform="matrix(0.3492 0 0 1.0436 478.92 1002.7)">A</text>
<text fill="#008000" transform="matrix(0.4140 0 0 1.0451 477.02 1078.8)">P</text>
<rect x="480.9" y="843.45" width="21.2" height="4.9" fill="#bfbfbf"/>
<rect x="489.05" y="845.9" width="4.9" height="75.8" fill="#bfbfbf"/>
<rect x="489.05" y="939.1" width="4.9" height="76.8" fill="#bfbfbf"/>
<rect x="480.9" y="1013.45" width="21.2" height="4.9" fill="#bfbfbf"/>
<text fill="#0000ff" transform="matrix(0.4176 0 0 1.0756 566.99 1001.3)">E</text>
<text class="i" transform="matrix(0.5830 0 0 1.1128 564.04 1078.8)">I</text><rect x="568.79" y="1011.58" width="11.37" height="61.13" fill="#fff"/><rect x="582.85" y="1011.58" width="11.37" height="61.13" fill="#fff"/>
<rect x="570.9" y="841.85" width="21.2" height="4.9" fill="#bfbfbf"/>
<rect x="579.05" y="844.3" width="4.9" height="74" fill="#bfbfbf"/>
<rect x="579.05" y="935.3" width="4.9" height="75" fill="#bfbfbf"/>
<rect x="570.9" y="1007.85" width="21.2" height="4.9" fill="#bfbfbf"/>
<text fill="#0000ff" transform="matrix(0.3691 0 0 2.4666 657.32 1078.8)">R</text>
<rect x="660.9" y="813.05" width="21.2" height="4.9" fill="#bfbfbf"/>
<rect x="669.05" y="815.5" width="4.9" height="83.54" fill="#bfbfbf"/>
<rect x="669.05" y="918.16" width="4.9" height="84.54" fill="#bfbfbf"/>
<rect x="660.9" y="1000.25" width="21.2" height="4.9" fill="#bfbfbf"/>
<text fill="#008000" transform="matrix(0.3492 0 0 1.0276 748.92 1003.6)">A</text>
<text fill="#0000ff" transform="matrix(0.3627 0 0 1.0320 747.36 1078.8)">K</text>
<rect x="750.9" y="845.25" width="21.2" height="4.9" fill="#bfbfbf"/>
<rect x="759.05" y="847.7" width="4.9" height="75.98" fill="#bfbfbf"/>
<rect x="759.05" y="941.12" width="4.9" height="76.98" fill="#bfbfbf"/>
<rect x="750.9" y="1015.65" width="21.2" height="4.9" fill="#bfbfbf"/>
<text fill="#008000" transform="matrix(0.3472 0 0 2.2867 838.36 1076.57)">G</text>
<rect x="840.9" y="817.95" width="21.2" height="4.9" fill="#bfbfbf"/>
<rect x="849.05" y="820.4" width="4.9" height="86.15" fill="#bfbfbf"/>
<rect x="849.05" y="926.25" width="4.9" height="87.15" fill="#bfbfbf"/>
<rect x="840.9" y="1010.95" width="21.2" height="4.9" fill="#bfbfbf"/>
<text fill="#0000ff" transform="matrix(0.3627 0 0 2.4666 927.36 1078.8)">K</text>
<rect x="930.9" y="813.05" width="21.2" height="4.9" fill="#bfbfbf"/>
<rect x="939.05" y="815.5" width="4.9" height="83.54" fill="#bfbfbf"/>
<rect x="939.05" y="918.16" width="4.9" height="84.54" fill="#bfbfbf"/>
<rect x="930.9" y="1000.25" width="21.2" height="4.9" fill="#bfbfbf"/>
<text class="i" transform="matrix(0.5830 0 0 1.1356 1014.04 999.9)">I</text><rect x="1018.79" y="931.31" width="11.37" height="62.38" fill="#fff"/><rect x="1032.85" y="931.31" width="11.37" height="62.38" fill="#fff"/>
<text fill="#008000" transform="matrix(0.4140 0 0 1.0785 1017.02 1078.8)">P</text>
<rect x="1020.9" y="839.55" width="21.2" height="4.9" fill="#bfbfbf"/>
<rect x="1029.05" y="842" width="4.9" height="74.3" fill="#bfbfbf"/>
<rect x="1029.05" y="932.9" width="4.9" height="73.2" fill="#bfbfbf"/>
<rect x="1020.9" y="1003.65" width="21.2" height="4.9" fill="#bfbfbf"/>
<text fill="#008000" transform="matrix(1.2152 0 0 0.7684 1075.52 999.15)">G</text>
<text fill="#008000" transform="matrix(1.2222 0 0 0.2282 1077.46 1020.3)">A</text>
<text fill="#0000ff" transform="matrix(1.3371 0 0 0.2384 1071.56 1040.7)">D</text>
<text fill="#0000ff" transform="matrix(1.3948 0 0 0.2282 1071.17 1060.5)">N</text>
<text fill="#0000ff" transform="matrix(1.2918 0 0 0.2122 1071.86 1078.8)">R</text>
<rect x="1110.9" y="874.85" width="21.2" height="4.9" fill="#bfbfbf"/>
<rect x="1119.05" y="877.3" width="4.9" height="60.65" fill="#bfbfbf"/>
<rect x="1119.05" y="952.05" width="4.9" height="61.95" fill="#bfbfbf"/>
<rect x="1110.9" y="1011.55" width="21.2" height="4.9" fill="#bfbfbf"/>
<text fill="#000000" transform="matrix(1.5979 0 0 1.2180 1159.81 1013)">L</text>
<text fill="#000000" transform="matrix(1.2551 0 0 0.5712 1169.64 1056.4)">V</text>
<text class="i" transform="matrix(2.0405 0 0 0.2778 1150.37 1078.8)">I</text><rect x="1169.5" y="1062.02" width="37.29" height="15.26" fill="#fff"/><rect x="1216.21" y="1062.02" width="37.28" height="15.26" fill="#fff"/>
<rect x="1200.9" y="846.85" width="21.2" height="4.9" fill="#bfbfbf"/>
<rect x="1209.05" y="849.3" width="4.9" height="71.26" fill="#bfbfbf"/>
<rect x="1209.05" y="936.84" width="4.9" height="71.76" fill="#bfbfbf"/>
<rect x="1200.9" y="1006.15" width="21.2" height="4.9" fill="#bfbfbf"/>
<text fill="#008000" transform="matrix(1.3925 0 0 1.3053 1258.94 1007.1)">T</text>
<text fill="#008000" transform="matrix(1.4490 0 0 0.2645 1250.81 1029.7)">P</text>
<svg x="1258.5" y="1034.9" width="86" height="20.5" overflow="hidden"><g transform="translate(-1258.5 -1034.9)"><text class="q" fill="#0000ff" transform="matrix(1.1782 0 0 0.2141 1254.49 1053.69)">Q</text></g></svg>
<text fill="#008000" transform="matrix(1.3687 0 0 0.2726 1256.56 1078.53)">S</text>
<rect x="1290.9" y="838.05" width="21.2" height="4.9" fill="#bfbfbf"/>
<rect x="1299.05" y="840.5" width="4.9" height="68.69" fill="#bfbfbf"/>
<rect x="1299.05" y="924.41" width="4.9" height="66.99" fill="#bfbfbf"/>
<rect x="1290.9" y="988.95" width="21.2" height="4.9" fill="#bfbfbf"/>
<text fill="#0000ff" transform="matrix(1.3371 0 0 0.2413 1341.56 953.7)">D</text>
<text fill="#0000ff" transform="matrix(1.4616 0 0 0.2413 1340.72 974.1)">E</text>
<text fill="#008000" transform="matrix(1.2152 0 0 0.2217 1345.52 994.88)">G</text>
<text fill="#000000" transform="matrix(1.1727 0 0 0.2384 1342.66 1015.6)">M</text>
<text fill="#0000ff" transform="matrix(1.2918 0 0 0.2282 1341.86 1036)">R</text>
<text fill="#000000" transform="matrix(0.8706 0 0 0.2282 1350.41 1056.4)">W</text>
<text fill="#000000" transform="matrix(1.2938 0 0 0.2486 1348.29 1078.8)">Y</text>
<rect x="1380.9" y="865.15" width="21.2" height="4.9" fill="#bfbfbf"/>
<rect x="1389.05" y="867.6" width="4.9" height="61.96" fill="#bfbfbf"/>
<rect x="1389.05" y="943.64" width="4.9" height="61.86" fill="#bfbfbf"/>
<rect x="1380.9" y="1003.05" width="21.2" height="4.9" fill="#bfbfbf"/>
<text fill="#0000ff" transform="matrix(1.2694 0 0 1.3009 1432.01 1008.3)">K</text>
<text fill="#0000ff" transform="matrix(1.4616 0 0 0.2733 1430.72 1032.2)">E</text>
<text fill="#0000ff" transform="matrix(1.2918 0 0 0.2645 1431.86 1055.7)">R</text>
<text fill="#008000" transform="matrix(1.3925 0 0 0.2718 1438.94 1078.8)">T</text>
<rect x="1470.9" y="841.05" width="21.2" height="4.9" fill="#bfbfbf"/>
<rect x="1479.05" y="843.5" width="4.9" height="67.06" fill="#bfbfbf"/>
<rect x="1479.05" y="926.04" width="4.9" height="68.16" fill="#bfbfbf"/>
<rect x="1470.9" y="991.75" width="21.2" height="4.9" fill="#bfbfbf"/>
<svg x="1528.5" y="841.8" width="86" height="201" overflow="hidden"><g transform="translate(-1528.5 -841.8)"><text class="q" fill="#0000ff" transform="matrix(1.1782 0 0 2.3732 1524.49 1029.86)">Q</text></g></svg>
<text fill="#0000ff" transform="matrix(1.2918 0 0 0.4317 1521.86 1078.8)">R</text>
<rect x="1560.9" y="748.05" width="21.2" height="4.9" fill="#bfbfbf"/>
<rect x="1569.05" y="750.5" width="4.9" height="83.27" fill="#bfbfbf"/>
<rect x="1569.05" y="852.83" width="4.9" height="84.27" fill="#bfbfbf"/>
<rect x="1560.9" y="934.65" width="21.2" height="4.9" fill="#bfbfbf"/>
<text fill="#000000" transform="matrix(1.2551 0 0 1.7660 1619.64 1028.7)">V</text>
<text class="i" transform="matrix(2.0405 0 0 0.3006 1600.37 1052.6)">I</text><rect x="1619.5" y="1034.44" width="37.29" height="16.51" fill="#fff"/><rect x="1666.21" y="1034.44" width="37.28" height="16.51" fill="#fff"/>
<text fill="#000000" transform="matrix(1.5979 0 0 0.3125 1609.81 1078.8)">L</text>
<rect x="1650.9" y="820.85" width="21.2" height="4.9" fill="#bfbfbf"/>
<rect x="1659.05" y="823.3" width="4.9" height="74.81" fill="#bfbfbf"/>
<rect x="1659.05" y="915.29" width="4.9" height="75.81" fill="#bfbfbf"/>
<rect x="1650.9" y="988.65" width="21.2" height="4.9" fill="#bfbfbf"/>
<svg x="1708.5" y="923" width="86" height="42.6" overflow="hidden"><g transform="translate(-1708.5 -923)"><text class="q" fill="#0000ff" transform="matrix(1.1782 0 0 0.4785 1704.49 962.51)">Q</text></g></svg>
<text fill="#0000ff" transform="matrix(1.2918 0 0 0.5887 1701.86 1010.3)">R</text>
<text fill="#008000" transform="matrix(1.3687 0 0 0.2641 1706.56 1033.24)">S</text>
<text fill="#000000" transform="matrix(1.2551 0 0 0.2718 1709.64 1056.4)">V</text>
<text fill="#000000" transform="matrix(0.8706 0 0 0.2733 1710.41 1078.8)">W</text>
<rect x="1740.9" y="850.95" width="21.2" height="4.9" fill="#bfbfbf"/>
<rect x="1749.05" y="853.4" width="4.9" height="63.74" fill="#bfbfbf"/>
<rect x="1749.05" y="931.86" width="4.9" height="64.74" fill="#bfbfbf"/>
<rect x="1740.9" y="994.15" width="21.2" height="4.9" fill="#bfbfbf"/>
<text fill="#008000" transform="matrix(1.2152 0 0 0.4746 1795.52 981.34)">G</text>
<text fill="#0000ff" transform="matrix(1.3371 0 0 0.2311 1791.56 1002.7)">D</text>
<text fill="#0000ff" transform="matrix(1.2694 0 0 0.2151 1792.01 1021.7)">K</text>
<text fill="#000000" transform="matrix(1.1727 0 0 0.2108 1792.66 1041)">M</text>
<text fill="#0000ff" transform="matrix(1.3948 0 0 0.2224 1791.17 1060)">N</text>
<text fill="#008000" transform="matrix(1.3687 0 0 0.2062 1796.56 1078.6)">S</text>
<rect x="1830.9" y="881.35" width="21.2" height="4.9" fill="#bfbfbf"/>
<rect x="1839.05" y="883.8" width="4.9" height="57.21" fill="#bfbfbf"/>
<rect x="1839.05" y="954.39" width="4.9" height="58.71" fill="#bfbfbf"/>
<rect x="1830.9" y="1010.65" width="21.2" height="4.9" fill="#bfbfbf"/>
<text fill="#000000" transform="matrix(0.8706 0 0 4.0030 1890.41 1032.6)">W</text>
<text fill="#000000" transform="matrix(1.6163 0 0 0.6105 1879.69 1078.8)">F</text>
<rect x="1920.9" y="645.15" width="21.2" height="4.9" fill="#bfbfbf"/>
<rect x="1929.05" y="647.6" width="4.9" height="97.94" fill="#bfbfbf"/>
<rect x="1929.05" y="767.86" width="4.9" height="98.94" fill="#bfbfbf"/>
<rect x="1920.9" y="864.35" width="21.2" height="4.9" fill="#bfbfbf"/>
<text fill="#000000" transform="matrix(1.6163 0 0 3.9172 1969.69 1078.8)">F</text>
<rect x="2010.9" y="705.95" width="21.2" height="4.9" fill="#bfbfbf"/>
<rect x="2019.05" y="708.4" width="4.9" height="90.11" fill="#bfbfbf"/>
<rect x="2019.05" y="819.09" width="4.9" height="91.11" fill="#bfbfbf"/>
<rect x="2010.9" y="907.75" width="21.2" height="4.9" fill="#bfbfbf"/>
<text fill="#000000" transform="matrix(1.2542 0 0 0.6313 2065.36 953.18)">C</text>
<svg x="2068.5" y="956" width="86" height="48.2" overflow="hidden"><g transform="translate(-2068.5 -956)"><text class="q" fill="#0000ff" transform="matrix(1.1782 0 0 0.5455 2064.49 1000.76)">Q</text></g></svg>
<text fill="#0000ff" transform="matrix(1.4616 0 0 0.3009 2060.72 1028.5)">E</text>
<text fill="#0000ff" transform="matrix(1.3948 0 0 0.2965 2061.17 1053.9)">N</text>
<text fill="#000000" transform="matrix(1.2551 0 0 0.2936 2069.64 1078.8)">V</text>
<rect x="2100.9" y="834.55" width="21.2" height="4.9" fill="#bfbfbf"/>
<rect x="2109.05" y="837" width="4.9" height="64.19" fill="#bfbfbf"/>
<rect x="2109.05" y="916.01" width="4.9" height="65.19" fill="#bfbfbf"/>
<rect x="2100.9" y="978.75" width="21.2" height="4.9" fill="#bfbfbf"/>
<text fill="#008000" transform="matrix(1.3948 0 0 0.6177 2151.17 961.4)">H</text>
<text fill="#0000ff" transform="matrix(1.3948 0 0 0.6090 2151.17 1008.3)">N</text>
<text fill="#0000ff" transform="matrix(1.3371 0 0 0.2674 2151.56 1031.5)">D</text>
<text fill="#0000ff" transform="matrix(1.4616 0 0 0.2762 2150.72 1055.8)">E</text>
<text fill="#008000" transform="matrix(1.3687 0 0 0.2571 2156.56 1078.55)">S</text>
<rect x="2190.9" y="847.15" width="21.2" height="4.9" fill="#bfbfbf"/>
<rect x="2199.05" y="849.6" width="4.9" height="61.67" fill="#bfbfbf"/>
<rect x="2199.05" y="925.53" width="4.9" height="62.67" fill="#bfbfbf"/>
<rect x="2190.9" y="985.75" width="21.2" height="4.9" fill="#bfbfbf"/>
<text fill="#0000ff" transform="matrix(1.2694 0 0 1.0276 2242.01 978.4)">K</text>
<text fill="#0000ff" transform="matrix(1.2918 0 0 1.0349 2241.86 1054.4)">R</text>
<svg x="2248.5" y="1057.2" width="86" height="22.2" overflow="hidden"><g transform="translate(-2248.5 -1057.2)"><text class="q" fill="#0000ff" transform="matrix(1.1782 0 0 0.2344 2244.49 1077.58)">Q</text></g></svg>
<rect x="2280.9" y="830.65" width="21.2" height="4.9" fill="#bfbfbf"/>
<rect x="2289.05" y="833.1" width="4.9" height="66.44" fill="#bfbfbf"/>
<rect x="2289.05" y="914.86" width="4.9" height="67.44" fill="#bfbfbf"/>
<rect x="2280.9" y="979.85" width="21.2" height="4.9" fill="#bfbfbf"/>
<text fill="#0000ff" transform="matrix(1.1073 0 0 3.3038 2338.95 1078.8)">R</text>
<rect x="2370.9" y="747.05" width="21.2" height="4.9" fill="#bfbfbf"/>
<rect x="2379.05" y="749.5" width="4.9" height="91.1" fill="#bfbfbf"/>
<rect x="2379.05" y="861.4" width="4.9" height="92.1" fill="#bfbfbf"/>
<rect x="2370.9" y="951.05" width="21.2" height="4.9" fill="#bfbfbf"/>
<text fill="#000000" transform="matrix(1.3696 0 0 0.6250 2427.2 985.1)">L</text>
<text fill="#008000" transform="matrix(1.1731 0 0 0.6116 2432.98 1031.5)">S</text>
<text fill="#0000ff" transform="matrix(1.1073 0 0 0.2718 2428.95 1055.8)">R</text>
<text fill="#000000" transform="matrix(1.1090 0 0 0.2733 2434.46 1078.8)">Y</text>
<rect x="2460.9" y="866.55" width="21.2" height="4.9" fill="#bfbfbf"/>
<rect x="2469.05" y="869" width="4.9" height="65.08" fill="#bfbfbf"/>
<rect x="2469.05" y="949.12" width="4.9" height="66.18" fill="#bfbfbf"/>
<rect x="2460.9" y="1012.85" width="21.2" height="4.9" fill="#bfbfbf"/>
<text fill="#0000ff" transform="matrix(0.9067 0 0 0.8416 2526.15 986)">K</text>
<text fill="#0000ff" transform="matrix(0.9227 0 0 0.8329 2526.04 1047.5)">R</text>
<text fill="#008000" transform="matrix(0.8730 0 0 0.3939 2530.04 1078.8)">A</text>
<rect x="2550.9" y="851.05" width="21.2" height="4.9" fill="#bfbfbf"/>
<rect x="2559.05" y="853.5" width="4.9" height="66.44" fill="#bfbfbf"/>
<rect x="2559.05" y="935.26" width="4.9" height="67.44" fill="#bfbfbf"/>
<rect x="2550.9" y="1000.25" width="21.2" height="4.9" fill="#bfbfbf"/>
<text fill="#0000ff" transform="matrix(0.9551 0 0 0.7718 2615.83 988.8)">D</text>
<text fill="#0000ff" transform="matrix(1.0440 0 0 0.3663 2615.23 1020.1)">E</text>
<text class="i" transform="matrix(1.4575 0 0 0.3735 2607.84 1049.7)">I</text><rect x="2621.21" y="1027.14" width="26.92" height="20.52" fill="#fff"/><rect x="2654.87" y="1027.14" width="26.92" height="20.52" fill="#fff"/>
<text fill="#000000" transform="matrix(0.8965 0 0 0.3547 2621.6 1078.8)">V</text>
<rect x="2640.9" y="863.55" width="21.2" height="4.9" fill="#bfbfbf"/>
<rect x="2649.05" y="866" width="4.9" height="61.93" fill="#bfbfbf"/>
<rect x="2649.05" y="942.47" width="4.9" height="63.93" fill="#bfbfbf"/>
<rect x="2640.9" y="1003.95" width="21.2" height="4.9" fill="#bfbfbf"/>
<text fill="#0000ff" transform="matrix(0.7253 0 0 1.8678 2713.22 1034.3)">K</text>
<text fill="#0000ff" transform="matrix(0.7382 0 0 0.5770 2713.13 1078.8)">R</text>
<rect x="2730.9" y="816.15" width="21.2" height="4.9" fill="#bfbfbf"/>
<rect x="2739.05" y="818.6" width="4.9" height="77.78" fill="#bfbfbf"/>
<rect x="2739.05" y="914.22" width="4.9" height="78.78" fill="#bfbfbf"/>
<rect x="2730.9" y="990.55" width="21.2" height="4.9" fill="#bfbfbf"/>
<text fill="#0000ff" transform="matrix(0.7253 0 0 1.1701 2803.22 993.8)">K</text>
<text fill="#0000ff" transform="matrix(0.7382 0 0 1.1744 2803.13 1078.8)">R</text>
<rect x="2820.9" y="829.25" width="21.2" height="4.9" fill="#bfbfbf"/>
<rect x="2829.05" y="831.7" width="4.9" height="72.74" fill="#bfbfbf"/>
<rect x="2829.05" y="921.16" width="4.9" height="73.74" fill="#bfbfbf"/>
<rect x="2820.9" y="992.45" width="21.2" height="4.9" fill="#bfbfbf"/>
<text class="fp" text-anchor="end" x="3866.3" y="1233">WebLogo 3.4</text>
</svg>
</body></html>
